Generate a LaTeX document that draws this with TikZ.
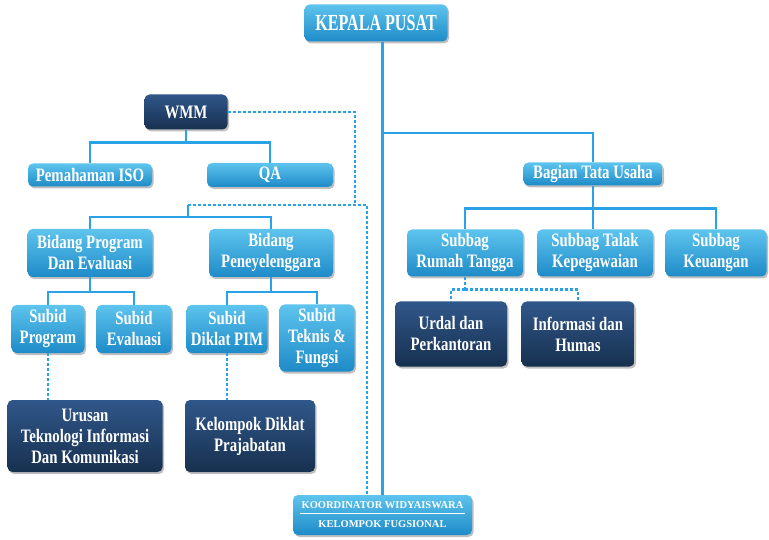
\documentclass[tikz,border=0pt]{standalone}
\usepackage{fontspec}
\newfontfamily\orgfont[FakeStretch=0.78]{Liberation Serif}
\newfontfamily\headfont[FakeStretch=0.7]{Liberation Serif}
\newfontfamily\plainfont{Liberation Serif}
\usetikzlibrary{positioning,shadows}

\definecolor{lineblue}{HTML}{2AA3E6}
\definecolor{boxtop}{HTML}{5EC4EE}
\definecolor{boxbot}{HTML}{1E8BC8}
\definecolor{navytop}{HTML}{30578A}
\definecolor{navybot}{HTML}{17304F}

\tikzset{
  unit/.style={rounded corners=5pt, top color=boxtop, bottom color=boxbot,
    text=white, align=center, inner sep=0pt,
    font=\orgfont\bfseries\fontsize{19}{21}\selectfont,
    drop shadow={opacity=0.5, shadow xshift=1.5pt, shadow yshift=-2pt}},
  navy/.style={unit, top color=navytop, bottom color=navybot},
  link/.style={draw=lineblue, line width=2.4pt},
  dlink/.style={link, dash pattern=on 3pt off 2pt},
}

\begin{document}
\begin{tikzpicture}[x=1pt,y=1pt]
  \useasboundingbox (0,0) rectangle (769,-540);

  % top
  \node[unit, minimum width=143pt, minimum height=37pt,
        font=\headfont\bfseries\fontsize{23}{24}\selectfont] (kepala) at (376,-23) {KEPALA PUSAT};
  \node[navy, minimum width=83pt, minimum height=35pt] (wmm) at (186,-112) {WMM};
  \node[unit, minimum width=124pt, minimum height=23pt] (iso) at (90,-175) {Pemahaman ISO};
  \node[unit, minimum width=126pt, minimum height=24pt] (qa) at (270,-175) {QA};
  \node[unit, minimum width=139pt, minimum height=23pt] (tu) at (593,-174) {Bagian Tata Usaha};

  % bidang
  \node[unit, minimum width=125pt, minimum height=48pt] (bpe) at (90,-253) {Bidang Program\\Dan Evaluasi};
  \node[unit, minimum width=124pt, minimum height=48pt] (bpn) at (271,-253) {Bidang\\Peneyelenggara};
  \node[unit, minimum width=73pt, minimum height=48pt] (sprog) at (48,-329) {Subid\\Program};
  \node[unit, minimum width=75pt, minimum height=48pt] (seval) at (134,-329) {Subid\\Evaluasi};
  \node[unit, minimum width=81pt, minimum height=48pt] (sdiklat) at (227,-329) {Subid\\Diklat PIM};
  \node[unit, minimum width=75pt, minimum height=67pt] (steknis) at (317,-338) {Subid\\Teknis \&\\Fungsi};
  \node[navy, minimum width=155pt, minimum height=72pt] (urusan) at (85,-436) {Urusan\\Teknologi Informasi\\Dan Komunikasi};
  \node[navy, minimum width=130pt, minimum height=72pt] (kdiklat) at (250,-436) {Kelompok Diklat\\Prajabatan};

  % tata usaha
  \node[unit, minimum width=116pt, minimum height=47pt] (srt) at (465,-253) {Subbag\\Rumah Tangga};
  \node[unit, minimum width=116pt, minimum height=47pt] (stalak) at (595,-253) {Subbag Talak\\Kepegawaian};
  \node[unit, minimum width=101pt, minimum height=47pt] (skeu) at (716,-253) {Subbag\\Keuangan};
  \node[navy, minimum width=112pt, minimum height=65pt] (urdal) at (451,-334) {Urdal dan\\Perkantoran};
  \node[navy, minimum width=113pt, minimum height=65pt] (humas) at (578,-334) {Informasi dan\\Humas};

  % fungsional
  \node[unit, minimum width=179pt, minimum height=40pt,
        font=\plainfont\bfseries\fontsize{10.5}{19}\selectfont] (koord) at (382.5,-515)
        {KOORDINATOR WIDYAISWARA\\KELOMPOK FUGSIONAL};
  \draw[white, line width=1pt] ([xshift=7pt,yshift=2pt]koord.west) -- ([xshift=-7pt,yshift=2pt]koord.east);

  \coordinate (tee) at (382.5,-133);
  \coordinate (wmmTurn) at (355,-205);
  \coordinate (busLeft) at (188,-205);
  \coordinate (busRight) at (367,-205);

  % solid lines
  \draw[link] (kepala.south -| koord.north) -- (koord.north);
  \draw[link] (tee) -| (tu.north);
  \draw[link] (tu.south) -- ++(0,-23) coordinate (tuBus);
  \draw[link] (tuBus) -| (srt.north);
  \draw[link] (tuBus) -| (skeu.north);
  \draw[link] (tuBus) -- (stalak.north -| tuBus);
  \draw[link] (wmm.south) -- ++(0,-13) coordinate (wmmBus);
  \draw[link] (wmmBus) -| (iso.north);
  \draw[link] (wmmBus) -| (qa.north);
  \draw[link] (busLeft) -- ++(0,-12) coordinate (bidBus);
  \draw[link] (bidBus) -| (bpe.north);
  \draw[link] (bidBus) -| (bpn.north);
  \draw[link] (bpe.south) -- ++(0,-15) coordinate (peBus);
  \draw[link] (peBus) -| (sprog.north);
  \draw[link] (peBus) -| (seval.north);
  \draw[link] (bpn.south) -- ++(0,-15) coordinate (pnBus);
  \draw[link] (pnBus) -| (sdiklat.north);
  \draw[link] (pnBus) -| (steknis.north);

  % dashed lines
  \draw[dlink] (wmm.east) -| (wmmTurn);
  \draw[dlink] (busLeft) -- (busRight) -- (busRight |- koord.north);
  \draw[dlink] (sprog.south) -- (sprog.south |- urusan.north);
  \draw[dlink] (sdiklat.south) -- (sdiklat.south |- kdiklat.north);
  \draw[dlink] (srt.south) -- ++(0,-13) coordinate (rtBus);
  \draw[dlink] (rtBus) -| (urdal.north);
  \draw[dlink] (rtBus) -| (humas.north);
\end{tikzpicture}
\end{document}
